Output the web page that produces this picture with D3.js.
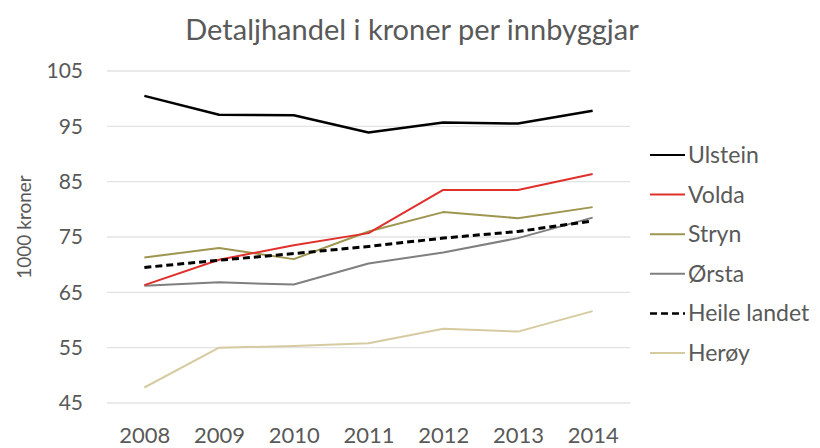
<!DOCTYPE html>
<html>
<head>
<meta charset="utf-8">
<script src="https://cdn.jsdelivr.net/npm/d3@7"></script>
<style>
  body { margin: 0; background: #fff; }
  text { font-family: Lato, "Open Sans", sans-serif; fill: #595959; }
</style>
</head>
<body>
<script>
// data
var years = ["2008", "2009", "2010", "2011", "2012", "2013", "2014"];
var yTicks = [45, 55, 65, 75, 85, 95, 105];

var ulstein = [100.5, 97.1, 97.0, 93.9, 95.7, 95.5, 97.8];
var volda = [66.3, 70.9, 73.5, 75.7, 83.5, 83.5, 86.4];
var stryn = [71.3, 73.0, 71.0, 76.0, 79.5, 78.4, 80.4];
var orsta = [66.2, 66.8, 66.4, 70.2, 72.2, 74.8, 78.5];
var heile = [69.5, 70.8, 72.0, 73.3, 74.8, 76.0, 77.9];
var heroy = [47.8, 55.0, 55.3, 55.8, 58.4, 57.9, 61.6];

var names = ["Ulstein", "Volda", "Stryn", "Ørsta", "Heile landet", "Herøy"];
var colors = ["#000000", "#e0302b", "#9e9650", "#7f7f7f", "#000000", "#d6cba0"];

var series = [ulstein, volda, stryn, orsta, heile, heroy].map(function(v, i) {
  return { name: names[i], values: v, color: colors[i] };
});

var w = 820, h = 448;

var svg = d3.select("body").append("svg")
  .attr("width", w)
  .attr("height", h);

var xScale = d3.scalePoint()
  .domain(years)
  .range([107, 630])
  .padding(0.5);

var yScale = d3.scaleLinear()
  .domain([45, 105])
  .range([403, 71]);

// title
svg.append("text")
  .attr("x", 412)
  .attr("y", 40)
  .attr("text-anchor", "middle")
  .style("font-size", "29px")
  .text("Detaljhandel i kroner per innbyggjar");

// gridlines
svg.append("g")
  .selectAll("line")
  .data(yTicks)
  .enter()
  .append("line")
  .attr("x1", 107)
  .attr("x2", 630)
  .attr("y1", (d) => yScale(d))
  .attr("y2", (d) => yScale(d))
  .attr("stroke", "#e3e3e3")
  .attr("stroke-width", 1.3);

// y axis
var yAxis = d3.axisLeft(yScale)
  .tickValues(yTicks)
  .tickSize(0)
  .tickPadding(13);

var gy = svg.append("g")
  .attr("transform", "translate(96,0)")
  .call(yAxis);
gy.select(".domain").remove();
gy.selectAll("text").style("font-size", "21px").attr("fill", "#595959");

// x axis
var xAxis = d3.axisBottom(xScale)
  .tickSize(0);

var gx = svg.append("g")
  .attr("transform", "translate(0,403)")
  .call(xAxis);
gx.select(".domain").remove();
gx.selectAll("text")
  .attr("y", 40)
  .attr("dy", null)
  .style("font-size", "22px")
  .attr("fill", "#595959");

// y axis title
svg.append("text")
  .attr("transform", "translate(31,227) rotate(-90)")
  .attr("text-anchor", "middle")
  .style("font-size", "19px")
  .text("1000 kroner");

// lines
var line = d3.line()
  .x((d, i) => xScale(years[i]))
  .y((d) => yScale(d));

var drawOrder = [5, 3, 2, 1, 4, 0];
drawOrder.forEach(function(k) {
  var s = series[k];
  svg.append("path")
    .datum(s.values)
    .attr("d", line)
    .attr("fill", "none")
    .attr("stroke", s.color)
    .attr("stroke-width", s.name == "Heile landet" ? 3 : (s.name == "Ulstein" ? 2.5 : 2))
    .attr("stroke-dasharray", s.name == "Heile landet" ? "7,4" : null)
    .attr("stroke-linejoin", "round");
});

// legend
var legend = svg.append("g")
  .selectAll("g")
  .data(series)
  .enter()
  .append("g")
  .attr("transform", (d, i) => "translate(650," + (155 + i * 39.6) + ")");

legend.append("line")
  .attr("x1", 0)
  .attr("x2", 35)
  .attr("stroke", (d) => d.color)
  .attr("stroke-width", (d) => d.name == "Heile landet" ? 2.5 : 2)
  .attr("stroke-dasharray", (d) => d.name == "Heile landet" ? "7,4" : null);

legend.append("text")
  .attr("x", 38)
  .attr("dy", "0.35em")
  .style("font-size", "23px")
  .text((d) => d.name);
</script>
</body>
</html>
